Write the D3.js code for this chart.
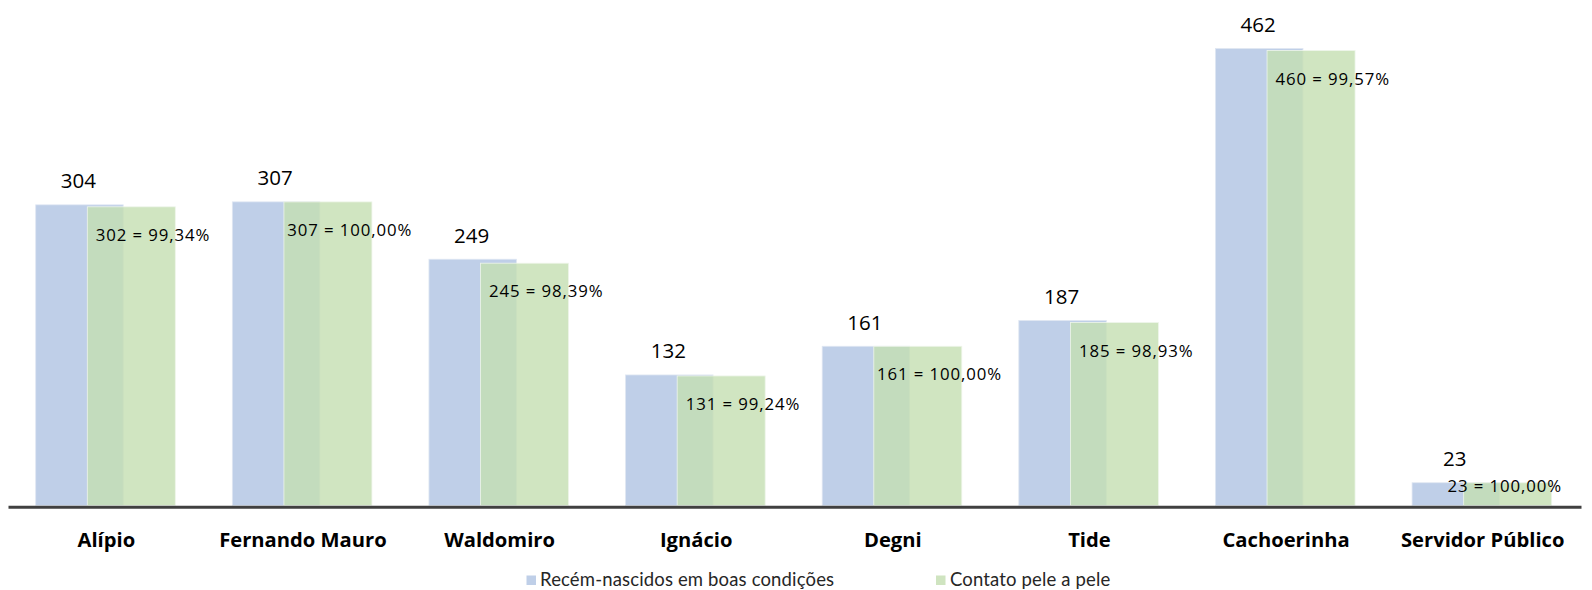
<!DOCTYPE html>
<html>
<head>
<meta charset="utf-8">
<script src="https://cdn.jsdelivr.net/npm/d3@7/dist/d3.min.js"></script>
<style>
  html, body { margin: 0; padding: 0; background: #ffffff; }
  svg { display: block; }
  text { font-family: "Open Sans", Lato, sans-serif; }
</style>
</head>
<body>
<svg id="chart" width="1592" height="590"></svg>
<script>
const categories = ["Alípio", "Fernando Mauro", "Waldomiro", "Ignácio", "Degni", "Tide", "Cachoerinha", "Servidor Público"];
const recemNascidos = [304, 307, 249, 132, 161, 187, 462, 23];
const contatoPele = [302, 307, 245, 131, 161, 185, 460, 23];
const seriesNames = ["Recém-nascidos em boas condições", "Contato pele a pele"];

const W = 1592, H = 590;
const svg = d3.select("#chart");
const blue = "#BFCFE8";
const green = "#C4DFB2";

const x = d3.scaleBand().domain(categories).range([8, 1581]).paddingInner(0).paddingOuter(0);
const y = d3.scaleLinear().domain([0, 500]).range([505.5, 11]);

const bw = 87.5;
const offBlue = 27.7, offGreen = 79.3;

const g = svg.append("g");

// blue bars
g.selectAll("rect.blue").data(categories).join("rect")
  .attr("class", "blue")
  .attr("x", d => x(d) + offBlue)
  .attr("width", bw)
  .attr("y", (d, i) => y(recemNascidos[i]))
  .attr("height", (d, i) => y(0) - y(recemNascidos[i]))
  .attr("fill", blue)
  .attr("stroke", "#dfe6f2").attr("stroke-width", 0.8);

// green bars (semi transparent overlay)
g.selectAll("rect.green").data(categories).join("rect")
  .attr("class", "green")
  .attr("x", d => x(d) + offGreen)
  .attr("width", bw + 0.5)
  .attr("y", (d, i) => y(contatoPele[i]))
  .attr("height", (d, i) => y(0) - y(contatoPele[i]))
  .attr("fill", green)
  .attr("fill-opacity", 0.8)
  .attr("stroke", "#eef5ea").attr("stroke-width", 0.8);

// axis
const axis = d3.axisBottom(x).tickSize(0).tickPadding(0);
const ax = svg.append("g").attr("transform", `translate(0, ${y(0) + 1.2})`).call(axis);
ax.select(".domain").attr("stroke", "#404040").attr("stroke-width", 3);
ax.selectAll("text")
  .attr("y", 40.5).attr("dy", 0)
  .attr("fill", "#000")
  .style("font-family", "'Open Sans', Lato, sans-serif")
  .style("font-size", "20.2px")
  .style("font-weight", "bold");

// blue value labels
g.selectAll("text.vb").data(categories).join("text")
  .attr("class", "vb")
  .attr("x", d => x(d) + offBlue + bw / 2 - 1)
  .attr("y", (d, i) => y(recemNascidos[i]) - 16.5)
  .attr("text-anchor", "middle")
  .attr("fill", "#000")
  .style("font-size", "20.5px")
  .text((d, i) => recemNascidos[i]);

// green value labels
const fmtPct = v => v.toFixed(2).replace(".", ",") + "%";
g.selectAll("text.vg").data(categories).join("text")
  .attr("class", "vg")
  .attr("y", (d, i) => Math.min(y(contatoPele[i]) + 34, y(0) - 14))
  .attr("fill", "#000")
  .style("font-size", "16.8px")
  .style("letter-spacing", "0.9px")
  .text((d, i) => contatoPele[i] + " = " + fmtPct(contatoPele[i] / recemNascidos[i] * 100))
  .each(function(d) {
    const w = this.getComputedTextLength();
    let cx = x(d) + offGreen + bw / 2 + 22;
    cx = Math.min(cx, W - 30 - w / 2);
    d3.select(this).attr("x", cx - w / 2);
  });

// legend
const legend = svg.append("g");
const legItems = [
  { name: seriesNames[0], color: blue, sx: 526.5, tx: 540 },
  { name: seriesNames[1], color: "#CFE4C0", sx: 936, tx: 950 }
];
legItems.forEach(it => {
  legend.append("rect").attr("x", it.sx).attr("y", 575.5).attr("width", 9.5).attr("height", 9.5).attr("fill", it.color);
  legend.append("text").attr("x", it.tx).attr("y", 585.5)
    .attr("fill", "#262626")
    .style("font-family", "Lato, 'Open Sans', sans-serif")
    .style("font-size", "18.5px")
    .style("letter-spacing", "0.15px")
    .text(it.name);
});
</script>
</body>
</html>
